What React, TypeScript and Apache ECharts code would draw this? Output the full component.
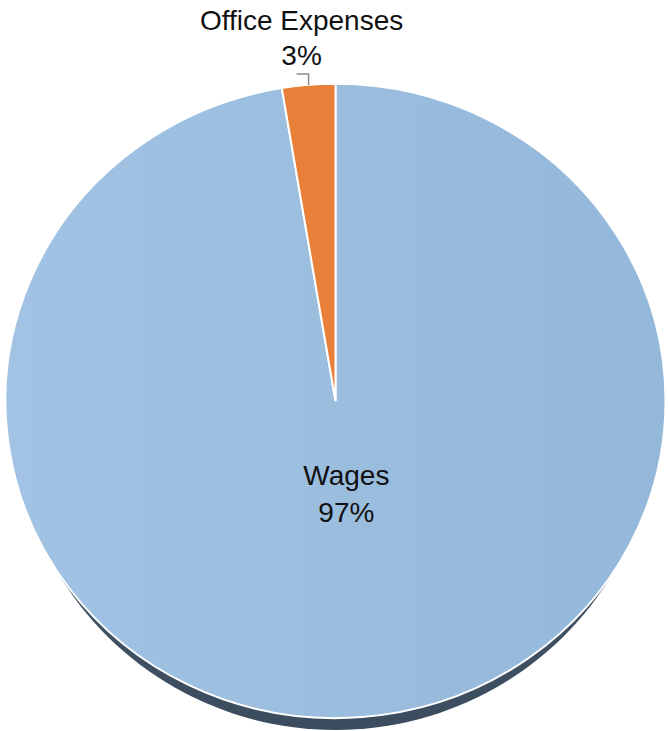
import React, { useEffect, useRef } from "react";
import * as echarts from "echarts";

const categories = ["Wages", "Office Expenses"];
const values = [97.4, 2.6];
const sliceColors = ["#9cbfe0", "#e8803a"];
const labelPlacement = ["inside", "outside"];

export default function App() {
  const ref = useRef<HTMLDivElement>(null);
  useEffect(() => {
    document.body.style.margin = "0";
    const chart = echarts.init(ref.current!, null, { renderer: "svg" });
    const total = values.reduce((a, b) => a + b, 0);
    const cx = 335.5, cy = 401, rx = 330, ry = 317;
    const sy = ry / rx;
    const rimR = 321.5, rimDrop = 12;
    const font = "Liberation Sans, Arial, sans-serif";

    const renderItem = (params: any, api: any) => {
      const i = params.dataIndex;
      let before = 0;
      for (let k = 0; k < i; k++) before += values[k];
      const v = api.value(0);
      const a0 = -Math.PI / 2 + (before / total) * Math.PI * 2;
      const a1 = -Math.PI / 2 + ((before + v) / total) * Math.PI * 2;
      const mid = (a0 + a1) / 2;
      const pct = Math.round((v / total) * 100) + "%";
      const children: any[] = [];
      if (i === 0) {
        children.push({
          type: "group",
          x: cx,
          y: cy + rimDrop,
          scaleY: ry / rimR,
          children: [
            {
              type: "circle",
              shape: { cx: 0, cy: 0, r: rimR },
              style: {
                fill: {
                  type: "linear", x: 0, y: 0, x2: 0, y2: 1,
                  colorStops: [
                    { offset: 0, color: "#5a6b7c" },
                    { offset: 1, color: "#3b4c5e" },
                  ],
                },
              },
            },
          ],
        });
      }
      children.push({
        type: "group",
        x: cx,
        y: cy,
        scaleY: sy,
        children: [
          {
            type: "sector",
            shape: { cx: 0, cy: 0, r: rx, r0: 0, startAngle: a0, endAngle: a1, clockwise: true },
            style: {
              fill: i === 0
                ? {
                    type: "linear", x: 0, y: 0, x2: 1, y2: 0,
                    colorStops: [
                      { offset: 0, color: "#a2c3e3" },
                      { offset: 1, color: "#94b8da" },
                    ],
                  }
                : sliceColors[i],
              stroke: "#ffffff",
              lineWidth: 2,
            },
          },
        ],
      });

      if (labelPlacement[i] === "inside") {
        const f = 0.293;
        const lx = cx + rx * f * Math.cos(mid) + 3;
        const ly = cy + ry * f * Math.sin(mid);
        children.push({
          type: "text",
          z2: 10,
          style: {
            text: categories[i] + "\n" + pct,
            x: lx, y: ly,
            align: "center", verticalAlign: "middle",
            fill: "#111111",
            fontSize: 28, fontFamily: font, lineHeight: 37,
          },
        });
      } else {
        const ex = cx + rx * Math.cos(mid);
        const ey = cy + ry * Math.sin(mid);
        children.push({
          type: "polyline",
          shape: { points: [[ex, ey], [ex, ey - 11], [ex - 12, ey - 11]] },
          style: { stroke: "#8c8c8c", lineWidth: 1.5, fill: null },
        });
        children.push({
          type: "text",
          z2: 10,
          style: {
            text: categories[i] + "\n" + pct,
            x: ex - 7, y: ey - 47.5,
            align: "center", verticalAlign: "middle",
            fill: "#111111",
            fontSize: 28, fontFamily: font, lineHeight: 35,
          },
        });
      }
      return { type: "group", children };
    };

    chart.setOption({
      animation: false,
      backgroundColor: "#ffffff",
      series: [
        {
          type: "custom",
          coordinateSystem: "none",
          renderItem,
          data: categories.map((c, k) => ({ name: c, value: values[k] })),
        },
      ],
    });
    return () => chart.dispose();
  }, []);
  return <div ref={ref} style={{ width: 668, height: 731 }} />;
}
